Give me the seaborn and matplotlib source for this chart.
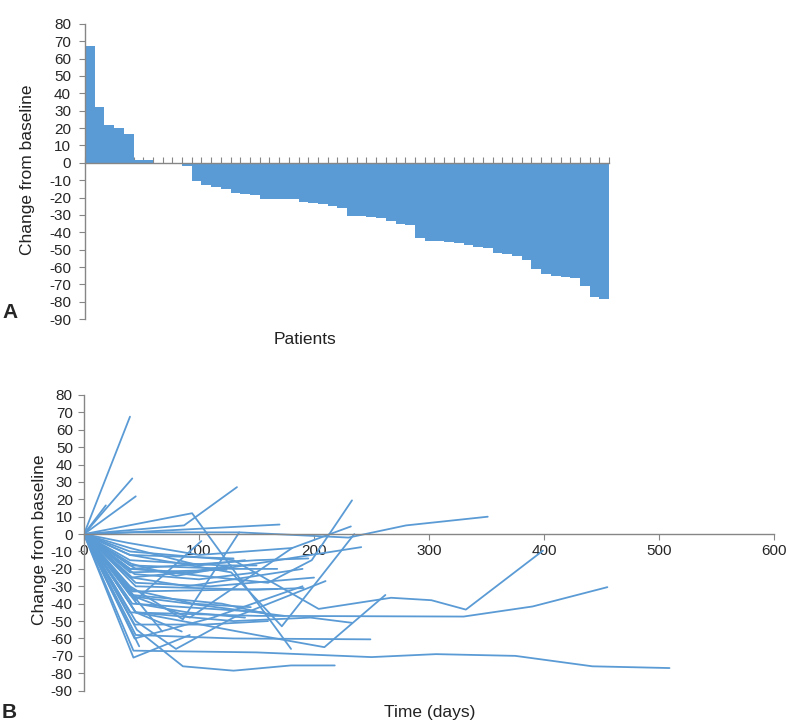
import numpy as np
import pandas as pd
import matplotlib
matplotlib.use("Agg")
import matplotlib.pyplot as plt
import seaborn as sns

# ── Data ──────────────────────────────────────────────────────────────────────
# Panel A: best change from baseline per patient (waterfall, sorted)
waterfall_change = [
    67.5, 32, 21.7, 19.8, 16.7, 1.5, 1.5, 0, 0, 0,
    -1.9, -10.6, -12.9, -13.7, -15, -17.5, -17.9, -18.6, -20.6, -20.6,
    -20.7, -20.8, -22.4, -23.1, -23.5, -25, -25.8, -30.4, -30.8, -31.4,
    -31.6, -33.3, -35, -35.6, -43.3, -45, -45.2, -45.8, -46.4, -47.1,
    -48.3, -49.1, -51.9, -52.5, -53.5, -56.2, -61.2, -64.2, -65, -66,
    -66.5, -70.8, -77.1, -78.3,
]

# Panel B: per-patient follow-up (days) and change from baseline
patient_days = [
    [0, 40], [0, 42], [0, 45], [0, 19],
    [0, 87, 133], [0, 94, 180],
    [0, 40, 135, 230, 280, 351], [0, 40, 170],
    [0, 40, 128, 172, 235], [0, 45, 160, 198, 233],
    [0, 40, 92, 181, 232], [0, 40, 120, 241],
    [0, 40, 130, 204, 267, 302, 332, 399],
    [0, 40, 150, 330, 390, 455],
    [0, 43, 150, 250, 306, 375, 442, 509],
    [0, 46, 86, 130, 180, 218], [0, 48], [0, 43, 92],
    [0, 45, 130, 249], [0, 45, 150, 209, 262], [0, 45, 130, 197, 233],
    [0, 45, 150, 191], [0, 42, 168], [0, 68], [0, 40, 86, 135],
    [0, 45, 85], [0, 45, 102], [0, 40, 120, 150], [0, 40, 130, 168],
    [0, 42, 157], [0, 44, 174], [0, 40, 124], [0, 38, 100, 181],
    [0, 45, 110, 200], [0, 40, 90, 128], [0, 42, 95, 145],
    [0, 44, 105, 160], [0, 45, 80, 130, 210], [0, 40, 100, 140],
    [0, 42, 120, 160], [0, 46, 90, 140], [0, 44, 112, 190],
    [0, 40, 150, 195], [0, 42, 90, 190], [0, 40, 130],
    [0, 44, 100, 150], [0, 41, 80, 125],
]
patient_change = [
    [0, 67.5], [0, 32], [0, 21.7], [0, 16.5],
    [0, 5, 27], [0, 12, -66],
    [0, 1, 1, -2, 5, 10], [0, 1, 5.5],
    [0, -12, -22, -53, 0], [0, -20, -28, -15, 19.4],
    [0, -35, -48, -8, 4.4], [0, -25, -20, -7.5],
    [0, -10, -15, -43, -36.6, -38, -43.4, -9.5],
    [0, -45, -47, -47.4, -41.6, -30.5],
    [0, -67, -68, -70.7, -69, -70, -76, -77],
    [0, -55, -76, -78.5, -75.5, -75.5], [0, -64.5], [0, -71, -58],
    [0, -58, -60, -60.5], [0, -45, -58, -65, -35], [0, -45, -50, -48, -51],
    [0, -30, -32, -31], [0, -33, -31.5], [0, -56], [0, -30, -49, 1],
    [0, -45, -56], [0, -38, -4], [0, -15, -18, -18], [0, -18, -20, -20],
    [0, -40, -45], [0, -36, -47], [0, -22, -20.5], [0, -5, -12, -8],
    [0, -28, -30, -25], [0, -20, -22, -18], [0, -32, -40, -42],
    [0, -52, -52, -50], [0, -50, -66, -48, -27], [0, -8, -18, -15],
    [0, -35, -40, -46], [0, -40, -45, -48], [0, -60, -48, -30],
    [0, -20, -15, -14], [0, -25, -30, -20], [0, -12, -14],
    [0, -23, -26, -22], [0, -17, -24, -19],
]

Y_TICKS = list(range(-90, 81, 10))
X_TICKS_B = [0, 100, 200, 300, 400, 500, 600]

BAR_BLUE = "#5B9BD5"
AXIS_GREY = "#868686"

sns.set_style("white")
plt.rcParams['font.family'] = ['Liberation Sans', 'DejaVu Sans']
plt.rcParams['axes.unicode_minus'] = False

fig = plt.figure(figsize=(7.87, 7.22), dpi=100)
axA = fig.add_axes([0.108, 0.558, 0.666, 0.409])
axB = fig.add_axes([0.1067, 0.0434, 0.877, 0.4096])

# ── Panel A: waterfall ────────────────────────────────────────────────────────
df_a = pd.DataFrame({'patient': np.arange(len(waterfall_change)),
                     'change': waterfall_change})
sns.barplot(data=df_a, x='patient', y='change', width=1.0, color=BAR_BLUE,
            saturation=1, linewidth=0, ax=axA)
axA.set_xlim(-0.5, len(waterfall_change) - 0.5)
axA.set_ylim(-90, 80)
axA.set_yticks(Y_TICKS)
axA.set_xticks(np.arange(len(waterfall_change) + 1) - 0.5)
axA.set_xticklabels([])
axA.set_xlabel('')
axA.set_ylabel('')
axA.tick_params(axis='x', bottom=True, direction='in', length=4,
                color=AXIS_GREY, width=0.8)
axA.tick_params(axis='y', left=True, direction='out', length=4,
                color=AXIS_GREY, width=0.8, labelsize=11, pad=6)

# ── Panel B: spaghetti ────────────────────────────────────────────────────────
rows = []
for pid, (days, vals) in enumerate(zip(patient_days, patient_change)):
    for d, v in zip(days, vals):
        rows.append((pid, d, v))
df_b = pd.DataFrame(rows, columns=['patient', 'day', 'change'])
sns.lineplot(data=df_b, x='day', y='change', units='patient', estimator=None,
             sort=False, color=BAR_BLUE, linewidth=1.3, ax=axB)
axB.set_xlim(0, 600)
axB.set_ylim(-90, 80)
axB.set_yticks(Y_TICKS)
axB.set_xticks(X_TICKS_B)
axB.set_xlabel('')
axB.set_ylabel('')
axB.tick_params(axis='x', bottom=True, direction='out', length=4,
                color=AXIS_GREY, width=0.8, labelsize=11, pad=3)
axB.tick_params(axis='y', left=True, direction='out', length=4,
                color=AXIS_GREY, width=0.8, labelsize=11, pad=4)

for ax in (axA, axB):
    for side in ('top', 'right'):
        ax.spines[side].set_visible(False)
    ax.spines['bottom'].set_position(('data', 0))
    for side in ('left', 'bottom'):
        ax.spines[side].set_color(AXIS_GREY)
        ax.spines[side].set_linewidth(1.0)
    ax.grid(False)

# ── Labels ────────────────────────────────────────────────────────────────────
fig.text(28 / 787, 1 - 170 / 722, 'Change from baseline', rotation=90,
         ha='center', va='center', fontsize=12.5, color='#222222')
fig.text(40 / 787, 1 - 540 / 722, 'Change from baseline', rotation=90,
         ha='center', va='center', fontsize=12.5, color='#222222')
fig.text(305 / 787, 1 - 340 / 722, 'Patients', ha='center', va='center',
         fontsize=12.5, color='#222222')
fig.text(430 / 787, 1 - 712 / 722, 'Time (days)', ha='center', va='center',
         fontsize=12.5, color='#222222')
fig.text(2 / 787, 1 - 312 / 722, 'A', ha='left', va='center',
         fontsize=15, fontweight='bold')
fig.text(2 / 787, 1 - 712 / 722, 'B', ha='left', va='center',
         fontsize=15, fontweight='bold')

plt.savefig('out.png', dpi=100)
plt.close()
